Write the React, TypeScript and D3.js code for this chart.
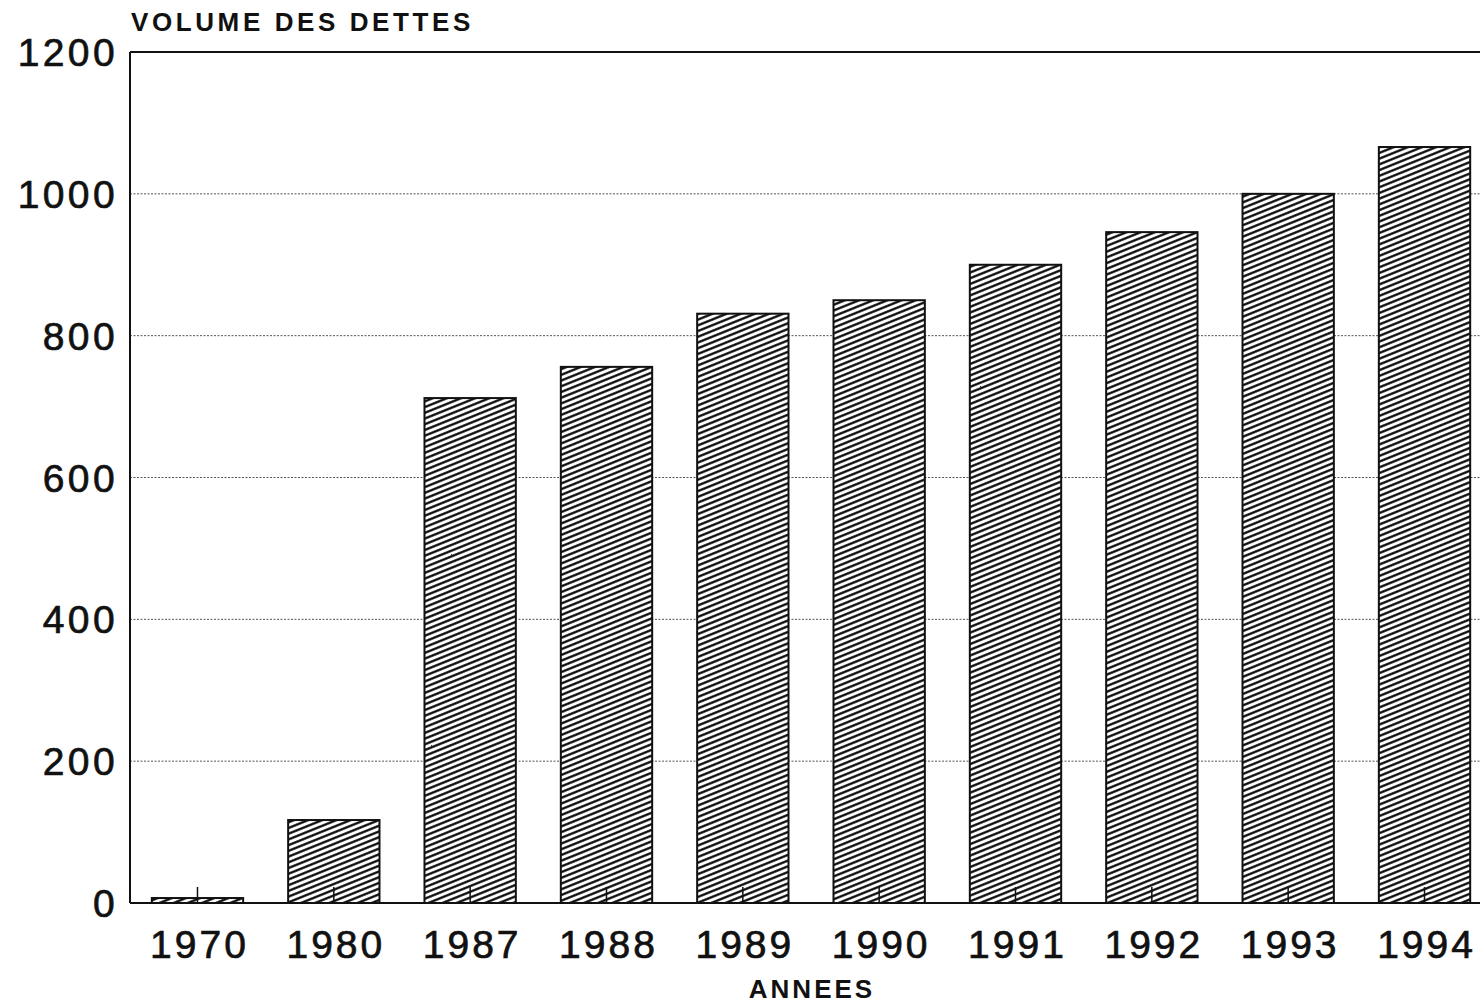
import React from 'react';
import * as d3 from 'd3';

// Chart data
const years = ['1970', '1980', '1987', '1988', '1989', '1990', '1991', '1992', '1993', '1994'];
const debts = [7, 117, 712, 756, 831, 850, 900, 946, 1000, 1066];
const yTicks = [0, 200, 400, 600, 800, 1000, 1200];

const width = 1480;
const height = 1003;
const margin = { top: 52, left: 130, bottom: 100 };
const plotRight = 1492;
const baseline = 903;

const font = '"Liberation Sans", Arial, Helvetica, sans-serif';

const App = () => {
  const x = d3.scaleBand()
    .domain(years)
    .range([margin.left, plotRight])
    .paddingInner(0.33)
    .paddingOuter(0.16);

  const y = d3.scaleLinear()
    .domain([0, 1200])
    .range([baseline, margin.top]);

  return (
    <svg
      width={width}
      height={height}
      style={{ position: 'absolute', left: 0, top: 0, background: '#fff' }}
    >
      <defs>
        <pattern id="hatch" patternUnits="userSpaceOnUse" width="6" height="5.3"
          patternTransform="rotate(-22)">
          <rect width="6" height="5.3" fill="#fff" />
          <line x1="-1" y1="1.3" x2="7" y2="1.3" stroke="#000" strokeWidth="2.2" />
        </pattern>
      </defs>

      {/* title */}
      <text x={131} y={31} fontFamily={font} fontWeight="bold" fontSize={26}
        letterSpacing={3.6} fill="#111">VOLUME DES DETTES</text>

      {/* dotted gridlines */}
      {yTicks.filter(t => t > 0 && t < 1200).map(t => (
        <line key={t} x1={margin.left} x2={plotRight} y1={y(t)} y2={y(t)}
          stroke="#555" strokeWidth={1} strokeDasharray="2,1.5" />
      ))}

      {/* frame: top and left */}
      <line x1={margin.left} x2={plotRight} y1={y(1200)} y2={y(1200)} stroke="#111" strokeWidth={2} />
      <line x1={margin.left} x2={margin.left} y1={y(1200)} y2={baseline} stroke="#111" strokeWidth={2} />

      {/* bars */}
      {years.map((yr, i) => (
        <rect key={yr}
          x={x(yr)}
          y={y(debts[i])}
          width={x.bandwidth()}
          height={baseline - y(debts[i])}
          fill="url(#hatch)"
          stroke="#111"
          strokeWidth={2} />
      ))}

      {/* baseline */}
      <line x1={margin.left} x2={plotRight} y1={baseline} y2={baseline} stroke="#111" strokeWidth={2} />

      {/* x ticks */}
      {years.map(yr => {
        const cx = (x(yr) as number) + x.bandwidth() / 2;
        return <line key={yr} x1={cx} x2={cx} y1={baseline} y2={baseline - 16} stroke="#111" strokeWidth={1.5} />;
      })}

      {/* y labels */}
      {yTicks.map(t => (
        <text key={t} x={118} y={y(t) + 14} textAnchor="end" fontFamily={font}
          fontSize={39} letterSpacing={3.4} fill="#111" stroke="#111" strokeWidth={0.7}>{t}</text>
      ))}

      {/* x labels */}
      {years.map(yr => (
        <text key={yr} x={(x(yr) as number) + x.bandwidth() / 2 + 2} y={958} textAnchor="middle"
          fontFamily={font} fontSize={39} letterSpacing={3} fill="#111" stroke="#111" strokeWidth={0.7}>{yr}</text>
      ))}

      {/* x axis title */}
      <text x={812} y={998} textAnchor="middle" fontFamily={font} fontWeight="bold"
        fontSize={26} letterSpacing={3} fill="#111">ANNEES</text>
    </svg>
  );
};

export default App;
